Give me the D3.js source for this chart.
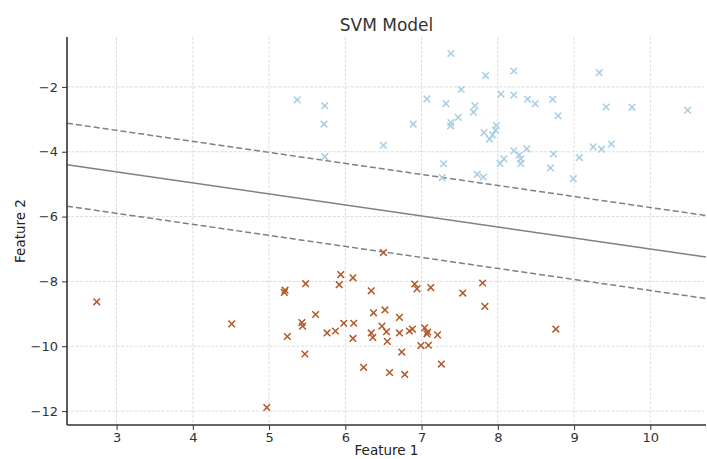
<!DOCTYPE html>
<html>
<head>
<meta charset="utf-8">
<script src="https://cdn.jsdelivr.net/npm/d3@7/dist/d3.min.js"></script>
<style>
  body { margin: 0; background: #fff; }
  svg text { font-family: "DejaVu Sans", sans-serif; }
</style>
</head>
<body>
<script>
var BLUE = '#a6cee3'
var BROWN = '#b15928'
var LINE_GREY = '#808080'

// class 0 (upper cluster)
var class0_x = [5.37, 5.73, 5.72, 5.73, 6.50, 6.89, 7.07,
  7.385, 7.84, 8.21, 7.52, 7.32, 8.04, 8.21, 8.39, 8.49, 8.72, 7.70, 7.68, 7.48,
  7.385, 7.38, 7.98, 7.97, 7.93, 7.82, 7.89, 8.79, 8.21, 8.38, 8.28, 8.30, 8.30,
  8.08, 8.03, 8.73, 8.69, 7.29, 7.27, 7.73, 7.81,
  9.33, 9.42, 9.76, 10.49, 9.25, 9.36, 9.49, 9.07, 8.99]
var class0_y = [-2.40, -2.58, -3.15, -4.15, -3.80, -3.15, -2.37,
  -0.97, -1.65, -1.51, -2.08, -2.52, -2.22, -2.25, -2.38, -2.52, -2.38, -2.58, -2.78, -2.94,
  -3.10, -3.20, -3.19, -3.33, -3.48, -3.41, -3.61, -2.89, -3.97, -3.91, -4.10, -4.22, -4.36,
  -4.22, -4.36, -4.07, -4.50, -4.37, -4.80, -4.70, -4.78,
  -1.56, -2.62, -2.63, -2.72, -3.85, -3.92, -3.76, -4.18, -4.83]

// class 1 (lower cluster)
var class1_x = [2.74, 4.51, 4.97, 5.21, 5.20, 5.48, 5.61, 5.43, 5.44, 5.24, 5.47,
  6.50, 5.94, 5.92, 6.10, 6.34, 6.91, 6.94, 7.12, 6.37, 6.52, 6.71, 5.98, 6.11,
  5.76, 5.87, 6.10, 6.48, 6.54, 6.34, 6.36, 6.55, 6.71, 6.84, 6.88, 7.04, 7.07,
  7.08, 7.21, 6.99, 7.09, 6.74, 6.24, 6.58, 6.78, 7.26,
  7.54, 7.80, 7.83, 8.76]
var class1_y = [-8.63, -9.31, -11.89, -8.27, -8.34, -8.07, -9.02, -9.27, -9.38, -9.70, -10.24,
  -7.11, -7.79, -8.10, -7.89, -8.29, -8.08, -8.23, -8.19, -8.97, -8.88, -9.11, -9.29, -9.29,
  -9.59, -9.53, -9.76, -9.38, -9.55, -9.59, -9.73, -9.85, -9.59, -9.53, -9.47, -9.43, -9.62,
  -9.56, -9.65, -9.98, -9.97, -10.18, -10.65, -10.81, -10.87, -10.55,
  -8.36, -8.05, -8.77, -9.47]

// decision boundary y = slope * x + intercept, margins at +/- margin
var boundary_slope = -0.34
var boundary_intercept = -3.60
var boundary_margin = 1.28

var x_ticks = [3, 4, 5, 6, 7, 8, 9, 10]
var y_ticks = [-2, -4, -6, -8, -10, -12]
var x_domain = [2.35, 10.73]
var y_domain = [-12.43, -0.46]

var W = 707, H = 459
var margin = { top: 37, right: 1, bottom: 34, left: 67 }
var pw = W - margin.left - margin.right
var ph = H - margin.top - margin.bottom

var svg = d3.select('body').append('svg')
  .attr('width', W)
  .attr('height', H)

var x = d3.scaleLinear().domain(x_domain).range([0, pw])
var y = d3.scaleLinear().domain(y_domain).range([ph, 0])

var g = svg.append('g').attr('transform', 'translate(' + margin.left + ',' + margin.top + ')')

svg.append('defs').append('clipPath').attr('id', 'plot-clip')
  .append('rect').attr('width', pw).attr('height', ph)

// grid
g.append('g').selectAll('line')
  .data(x_ticks).enter().append('line')
  .attr('x1', function(d){ return x(d) }).attr('x2', function(d){ return x(d) })
  .attr('y1', 0).attr('y2', ph)
  .attr('stroke', '#d4d4d4').attr('stroke-width', 0.8).attr('stroke-dasharray', '3,1.5')
g.append('g').selectAll('line')
  .data(y_ticks).enter().append('line')
  .attr('y1', function(d){ return y(d) }).attr('y2', function(d){ return y(d) })
  .attr('x1', 0).attr('x2', pw)
  .attr('stroke', '#d4d4d4').attr('stroke-width', 0.8).attr('stroke-dasharray', '3,1.5')

// boundary + margins
var lines = [
  { offset: 0, dash: null },
  { offset: boundary_margin, dash: '6,3' },
  { offset: -boundary_margin, dash: '6,3' }
]
g.append('g').attr('clip-path', 'url(#plot-clip)').selectAll('line')
  .data(lines).enter().append('line')
  .attr('x1', x(x_domain[0]))
  .attr('x2', x(x_domain[1]))
  .attr('y1', function(d){ return y(boundary_slope * x_domain[0] + boundary_intercept + d.offset) })
  .attr('y2', function(d){ return y(boundary_slope * x_domain[1] + boundary_intercept + d.offset) })
  .attr('stroke', LINE_GREY)
  .attr('stroke-width', 1.5)
  .attr('stroke-dasharray', function(d){ return d.dash })

// x markers
function draw_markers(xs, ys, color){
  var pts = xs.map(function(v, i){ return [v, ys[i]] })
  var s = 3.3
  g.append('g').selectAll('path')
    .data(pts).enter().append('path')
    .attr('d', function(d){
      var cx = x(d[0]), cy = y(d[1])
      return 'M' + (cx - s) + ',' + (cy - s) + 'L' + (cx + s) + ',' + (cy + s) +
             'M' + (cx - s) + ',' + (cy + s) + 'L' + (cx + s) + ',' + (cy - s)
    })
    .attr('stroke', color)
    .attr('stroke-width', 1.5)
    .attr('fill', 'none')
}
draw_markers(class0_x, class0_y, BLUE)
draw_markers(class1_x, class1_y, BROWN)

// axes
var xAxis = g.append('g').attr('transform', 'translate(0,' + ph + ')')
  .call(d3.axisBottom(x).tickValues(x_ticks).tickSize(5).tickPadding(3).tickFormat(d3.format('d')))
var yAxis = g.append('g')
  .call(d3.axisLeft(y).tickValues(y_ticks).tickSize(5).tickPadding(4).tickFormat(function(d){ return '\u2212' + Math.abs(d) }))

;[xAxis, yAxis].forEach(function(a){
  a.select('.domain').attr('stroke', '#333').attr('stroke-width', 1.6)
  a.selectAll('.tick line').attr('stroke', '#333').attr('stroke-width', 1)
  a.selectAll('.tick text').attr('fill', '#333').attr('font-size', '13px')
})
xAxis.select('.domain').attr('d', 'M0,0H' + pw)
yAxis.select('.domain').attr('d', 'M0,0V' + ph)

// titles
svg.append('text')
  .attr('x', margin.left + pw / 2).attr('y', 31)
  .attr('text-anchor', 'middle').attr('font-size', '17px').attr('fill', '#333')
  .text('SVM Model')
svg.append('text')
  .attr('x', margin.left + pw / 2).attr('y', 455)
  .attr('text-anchor', 'middle').attr('font-size', '13.5px').attr('fill', '#222')
  .text('Feature 1')
svg.append('text')
  .attr('transform', 'translate(25,' + (margin.top + ph / 2) + ') rotate(-90)')
  .attr('text-anchor', 'middle').attr('font-size', '13.5px').attr('fill', '#222')
  .text('Feature 2')
</script>
</body>
</html>
